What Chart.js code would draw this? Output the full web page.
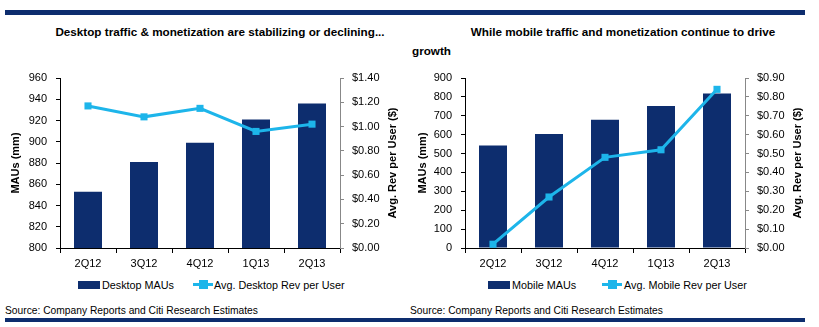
<!DOCTYPE html>
<html>
<head>
<meta charset="utf-8">
<script src="https://cdn.jsdelivr.net/npm/chart.js@4/dist/chart.umd.min.js"></script>
<style>
  body { margin: 0; background: #fff; font-family: "Liberation Sans", Arial, sans-serif; }
  #page { position: relative; width: 819px; height: 327px; overflow: hidden; }
  .rule { position: absolute; left: 5px; width: 800px; height: 5px; background: #0d2d6e; }
  .title { position: absolute; font-weight: bold; font-size: 11.7px; color: #000; white-space: nowrap; }
  canvas { position: absolute; }
  .legend { position: absolute; top: 278px; font-size: 10.8px; color: #000; white-space: nowrap; line-height: 14px; }
  .box { position: absolute; top: 3px; width: 22px; height: 8px; background: #0d2d6e; }
  .ln { position: absolute; top: 5px; width: 20px; height: 3px; background: #1db5ea; }
  .mk { position: absolute; top: 2px; width: 9px; height: 9px; background: #1db5ea; }
  .source { position: absolute; top: 305px; font-size: 10.25px; color: #000; white-space: nowrap; }
</style>
</head>
<body>
<div id="page">
  <div class="rule" style="top:10px"></div>
  <div class="title" style="left:220px;top:25px;transform:translateX(-50%)">Desktop traffic &amp; monetization are stabilizing or declining...</div>
  <div class="title" style="left:623px;top:25px;transform:translateX(-50%)">While mobile traffic and monetization continue to drive</div>
  <div class="title" style="left:412px;top:44px">growth</div>

  <canvas id="desktop" width="400" height="215" style="left:0px;top:60px;width:400px;height:215px"></canvas>
  <canvas id="mobile" width="400" height="215" style="left:405px;top:60px;width:400px;height:215px"></canvas>

  <div class="legend" style="left:0px">
    <div class="box" style="left:78px"></div><span style="position:absolute;left:102px">Desktop MAUs</span>
    <div class="ln" style="left:193px"></div><div class="mk" style="left:199px"></div><span style="position:absolute;left:214px">Avg. Desktop Rev per User</span>
  </div>
  <div class="legend" style="left:0px">
    <div class="box" style="left:488px"></div><span style="position:absolute;left:512px">Mobile MAUs</span>
    <div class="ln" style="left:602px"></div><div class="mk" style="left:608px"></div><span style="position:absolute;left:624px">Avg. Mobile Rev per User</span>
  </div>

  <div class="source" style="left:5px">Source: Company Reports and Citi Research Estimates</div>
  <div class="source" style="left:410px">Source: Company Reports and Citi Research Estimates</div>
  <div class="rule" style="top:318px;height:4px"></div>
</div>

<script>
// quarters on the x axis
const quarters = ['2Q12', '3Q12', '4Q12', '1Q13', '2Q13'];

// desktop: MAUs (mm) and avg revenue per user ($)
const desktopMaus = [853, 881, 899, 921, 936];
const desktopArpu = [1.17, 1.08, 1.15, 0.96, 1.02];

// mobile: MAUs (mm) and avg revenue per user ($)
const mobileMaus = [543, 603, 679, 752, 818];
const mobileArpu = [0.02, 0.27, 0.48, 0.52, 0.84];

const navy = '#0d2d6e';
const cyan = '#1db5ea';
const font = { family: '"Liberation Sans", Arial, sans-serif', size: 11 };
const titleFont = { family: font.family, size: 11, weight: 'bold' };

// right axis title reads bottom-to-top like the left one
const rightTitle = {
  id: 'rightTitle',
  afterDraw(chart) {
    const s = chart.scales.y1;
    const ctx = chart.ctx;
    ctx.save();
    ctx.translate(s.right - 7, (s.top + s.bottom) / 2);
    ctx.rotate(-Math.PI / 2);
    ctx.font = 'bold 11px ' + font.family;
    ctx.fillStyle = '#000';
    ctx.textAlign = 'center';
    ctx.textBaseline = 'middle';
    ctx.fillText('Avg. Rev per User ($)', 0, 0);
    ctx.restore();
  }
};

function makeChart(id, barLabel, bars, lineLabel, line, left, right, leftTitlePad) {
  return new Chart(document.getElementById(id), {
    data: {
      labels: quarters,
      datasets: [
        {
          type: 'line', label: lineLabel, data: line, yAxisID: 'y1',
          borderColor: cyan, backgroundColor: cyan, borderWidth: 3,
          pointStyle: 'rect', pointRadius: 5, pointBackgroundColor: cyan, pointBorderWidth: 0,
          tension: 0, order: 0
        },
        {
          type: 'bar', label: barLabel, data: bars, yAxisID: 'y',
          backgroundColor: navy, borderWidth: 0,
          barPercentage: 0.5, categoryPercentage: 1, order: 1
        }
      ]
    },
    options: {
      responsive: false,
      animation: false,
      layout: { padding: { top: 18, bottom: 0, left: 0, right: 0 } },
      plugins: { legend: { display: false }, tooltip: { enabled: false } },
      scales: {
        x: {
          offset: true,
          border: { color: '#000', width: 1 },
          grid: { offset: true, drawOnChartArea: false, tickLength: 5, color: '#000' },
          ticks: { color: '#000', font: font, padding: 4 },
          afterFit: s => { s.height = 27; }
        },
        y: {
          position: 'left',
          min: left.min, max: left.max,
          border: { color: '#000', width: 1 },
          grid: { drawOnChartArea: false, tickLength: 4, color: '#000' },
          ticks: { stepSize: left.step, color: '#000', font: font, padding: 9 },
          title: { display: true, text: 'MAUs (mm)', color: '#000', padding: { top: leftTitlePad, bottom: 0 },
                   font: titleFont },
          afterFit: s => { s.width = 60; }
        },
        y1: {
          position: 'right',
          min: right.min, max: right.max,
          border: { color: '#888', width: 1 },
          grid: { drawOnChartArea: false, tickLength: 4, color: '#888' },
          ticks: { stepSize: right.step, color: '#000', font: font, padding: 8,
                   callback: v => '$' + Number(v).toFixed(2) },
          afterFit: s => { s.width = 60; }
        }
      }
    },
    plugins: [rightTitle]
  });
}

makeChart('desktop', 'Desktop MAUs', desktopMaus, 'Avg. Desktop Rev per User', desktopArpu,
  { min: 800, max: 960, step: 20 }, { min: 0, max: 1.4, step: 0.2 }, 9);
makeChart('mobile', 'Mobile MAUs', mobileMaus, 'Avg. Mobile Rev per User', mobileArpu,
  { min: 0, max: 900, step: 100 }, { min: 0, max: 0.9, step: 0.1 }, 11);
</script>
</body>
</html>
